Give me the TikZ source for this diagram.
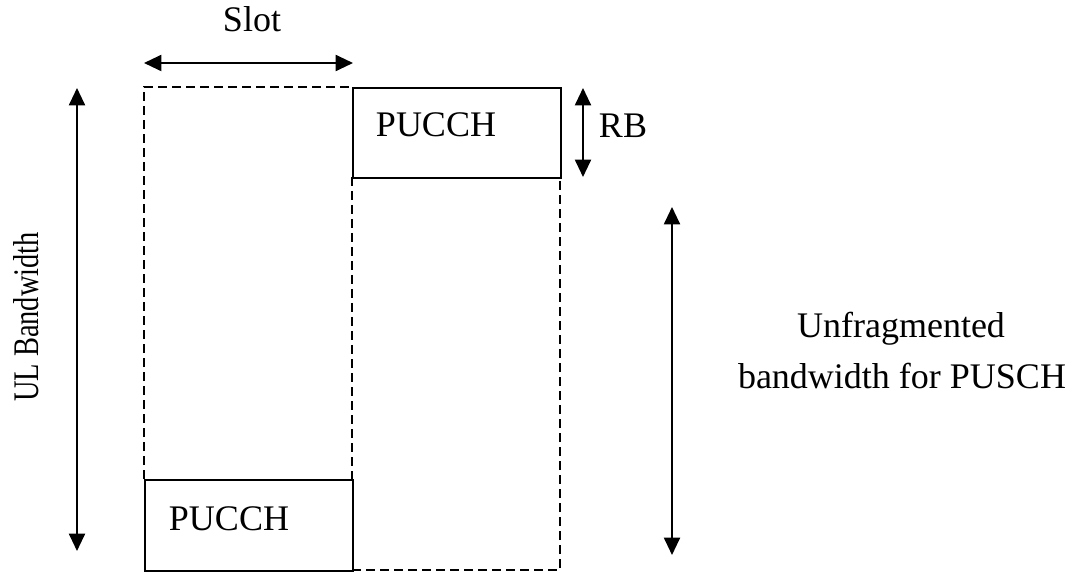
\documentclass[tikz,border=0pt]{standalone}
\usepackage{fontspec}
\setmainfont{Liberation Serif}
\usetikzlibrary{arrows.meta}
\begin{document}
\begin{tikzpicture}[x=0.75pt,y=-0.75pt,
  solidbox/.style={draw, line width=1.5pt, inner sep=0pt, anchor=north west},
  dashline/.style={draw, line width=1.1pt, dash pattern=on 6.5pt off 4pt},
  dimarrow/.style={line width=1.5pt, {Triangle[length=13pt,width=12pt]}-{Triangle[length=13pt,width=12pt]}},
  lbl/.style={font=\fontsize{27}{37}\selectfont, inner sep=0pt, anchor=base}]
\useasboundingbox (0,0) rectangle (1077,573);
% dashed columns
\draw[dashline] (352,177) -- (352,479);
\draw[dashline] (144,479) -- (144,87) -- (352,87);
\draw[dashline] (352,570) -- (560,570) -- (560,177);
% PUCCH boxes
\node[solidbox, minimum width=208*0.75pt, minimum height=90*0.75pt] (top) at (352,87) {};
\node[solidbox, minimum width=208*0.75pt, minimum height=91*0.75pt] (bot) at (144,479) {};
\node[lbl] (toplbl) at (436,137) {PUCCH};
\node[lbl] (botlbl) at (229,530) {PUCCH};
% coordinates for arrows
\coordinate (sa) at (144,63); \coordinate (sb) at (353,63);
\coordinate (ua) at (77,88); \coordinate (ub) at (77,551);
\coordinate (ra) at (583,88); \coordinate (rb) at (583,177);
\coordinate (fa) at (672,207); \coordinate (fb) at (672,555);
\draw[dimarrow] (sa) -- (sb);
\draw[dimarrow] (ua) -- (ub);
\draw[dimarrow] (ra) -- (rb);
\draw[dimarrow] (fa) -- (fb);
% labels
\node[lbl] (slot) at (252,32) {Slot};
\node[lbl, anchor=center, rotate=90] (ul) at (26,317) {\scalebox{0.79}[1]{UL Bandwidth}};
\node[lbl] (rblbl) at (623,138) {RB};
\node[lbl] (unfr1) at (901,338) {Unfragmented};
\node[lbl] (unfr2) at (902,388) {bandwidth for PUSCH};
\end{tikzpicture}
\end{document}
